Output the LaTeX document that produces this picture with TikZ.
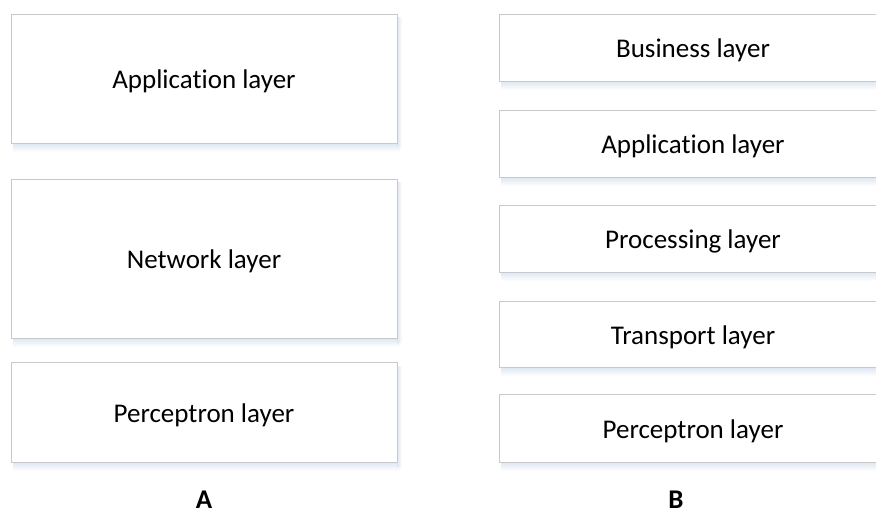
\documentclass[tikz,border=0pt]{standalone}
\usepackage{fontspec}
\setmainfont[Ligatures=NoCommon]{Carlito}
\usetikzlibrary{calc,fit}
\definecolor{boxline}{HTML}{C9C9C9}
\definecolor{shadowblue}{HTML}{DCE6F2}
\tikzset{
  layerbox/.style={draw=boxline, line width=0.9bp, fill=white, inner sep=0pt},
  layertext/.style={font=\fontsize{27bp}{32bp}\selectfont, text=black, anchor=base, inner sep=0pt},
  caption/.style={font=\fontsize{27bp}{32bp}\selectfont\bfseries, text=black, anchor=base, inner sep=0pt}
}
% box with a soft bluish shadow under its lower edge and its label centred
\newcommand\layerrect[4]{% name, (x1,y1), (x2,y2), text
  \path #2 coordinate (#1-tl) #3 coordinate (#1-br);
  \shade[top color=shadowblue, bottom color=white]
    ($(#1-tl|-#1-br)+(2,0)$) rectangle ($(#1-br)+(3,9)$);
  \shade[left color=shadowblue, right color=white]
    ($(#1-br|-#1-tl)+(0,4)$) rectangle ($(#1-br)+(5,4)$);
  \node[layerbox, fit=(#1-tl)(#1-br)] (#1) {};
  \node[layertext] (#1-label) at ($(#1.center)+(0,10.5)$) {#4};
}
\begin{document}
\begin{tikzpicture}[x=1bp, y=-1bp]
  \useasboundingbox (0,0) rectangle (876,514);
  \clip (0,0) rectangle (876,514);
  % stack A
  \layerrect{appA}{(11,14)}{(397,143)}{Application layer}
  \layerrect{netA}{(11,179)}{(397,338)}{Network layer}
  \layerrect{perA}{(11,362)}{(397,462)}{Perceptron layer}
  % stack B
  \layerrect{busB}{(499,14)}{(887,81)}{Business layer}
  \layerrect{appB}{(499,110)}{(887,177)}{Application layer}
  \layerrect{proB}{(499,205)}{(887,272)}{Processing layer}
  \layerrect{traB}{(499,301)}{(887,367)}{Transport layer}
  \layerrect{perB}{(499,394)}{(887,462)}{Perceptron layer}
  % captions
  \node[caption] (capA) at (204,508.5) {A};
  \node[caption] (capB) at (676,508) {B};
\end{tikzpicture}
\end{document}
